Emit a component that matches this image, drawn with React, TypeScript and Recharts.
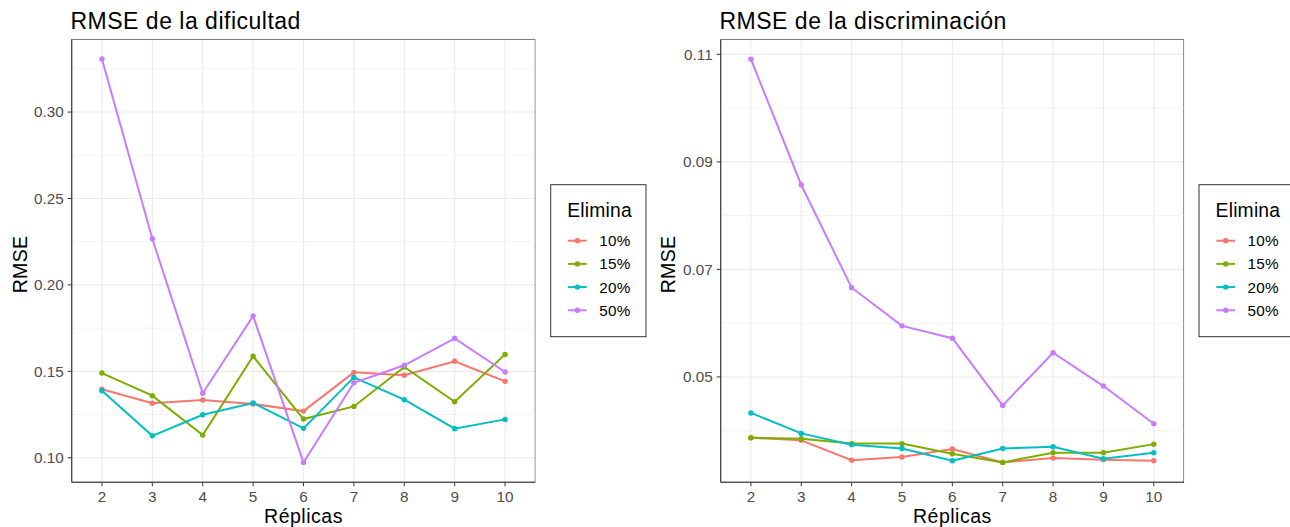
import React from 'react';
import { LineChart, Line, XAxis, YAxis, CartesianGrid, ReferenceLine, ReferenceArea } from 'recharts';

const replicas = [2, 3, 4, 5, 6, 7, 8, 9, 10];
const seriesNames = ['10%', '15%', '20%', '50%'];
const seriesColors = ['#F8766D', '#7CAE00', '#00BFC4', '#C77CFF'];

// RMSE de la dificultad
const dif10 = [0.1396, 0.1315, 0.1334, 0.1311, 0.127, 0.1494, 0.1477, 0.1558, 0.1442];
const dif15 = [0.149, 0.1359, 0.1131, 0.1587, 0.1224, 0.1297, 0.1525, 0.1324, 0.1598];
const dif20 = [0.1388, 0.1127, 0.1249, 0.1317, 0.117, 0.1465, 0.1336, 0.1168, 0.1222];
const dif50 = [0.3307, 0.2267, 0.1373, 0.182, 0.0973, 0.1434, 0.1535, 0.1691, 0.1496];

// RMSE de la discriminación
const dis10 = [0.0387, 0.0382, 0.0345, 0.0351, 0.0366, 0.0341, 0.0349, 0.0346, 0.0344];
const dis15 = [0.0387, 0.0385, 0.0376, 0.0376, 0.0357, 0.0341, 0.0359, 0.0359, 0.0375];
const dis20 = [0.0433, 0.0395, 0.0374, 0.0367, 0.0344, 0.0367, 0.037, 0.0348, 0.0359];
const dis50 = [0.1091, 0.0857, 0.0666, 0.0595, 0.0572, 0.0447, 0.0545, 0.0483, 0.0413];

const difTicks = [0.1, 0.15, 0.2, 0.25, 0.3];
const difMinor = [0.125, 0.175, 0.225, 0.275, 0.325];
const disTicks = [0.05, 0.07, 0.09, 0.11];
const disMinor = [0.04, 0.06, 0.08, 0.1];

const keys = ['s10', 's15', 's20', 's50'];

function buildRows(a: number[], b: number[], c: number[], d: number[]) {
  return replicas.map((r, i) => ({ rep: r, s10: a[i], s15: b[i], s20: c[i], s50: d[i] }));
}

const difRows = buildRows(dif10, dif15, dif20, dif50);
const disRows = buildRows(dis10, dis15, dis20, dis50);

const FONT = '"Liberation Sans", Arial, Helvetica, sans-serif';

type PanelProps = {
  rows: any[];
  domain: [number, number];
  ticks: number[];
  minor: number[];
  yWidth: number;
  rightMargin: number;
};

function Panel({ rows, domain, ticks, minor, yWidth, rightMargin }: PanelProps) {
  return (
    <LineChart
      width={645}
      height={527}
      data={rows}
      margin={{ top: 39.3, right: rightMargin, bottom: 0, left: 0 }}
    >
      {minor.map((v) => (
        <ReferenceLine key={'m' + v} y={v} stroke="#EBEBEB" strokeWidth={0.6} ifOverflow="hidden" />
      ))}
      <CartesianGrid stroke="#EBEBEB" strokeWidth={1.1} />
      <XAxis
        dataKey="rep"
        type="number"
        domain={[1.4, 10.6]}
        ticks={replicas}
        allowDataOverflow
        height={44.7}
        axisLine={{ stroke: '#333333', strokeWidth: 1 }}
        tickLine={{ stroke: '#333333' }}
        tickSize={4}
        tickMargin={4.5}
        tick={{ fill: '#4D4D4D', fontSize: 15.3, fontFamily: FONT }}
        interval={0}
      />
      <YAxis
        type="number"
        domain={domain}
        ticks={ticks}
        allowDataOverflow
        width={yWidth}
        axisLine={{ stroke: '#333333', strokeWidth: 1 }}
        tickLine={{ stroke: '#333333' }}
        tickSize={4}
        tickMargin={4}
        tick={{ fill: '#4D4D4D', fontSize: 15.3, fontFamily: FONT }}
        tickFormatter={(v: number) => v.toFixed(2)}
        interval={0}
      />
      {keys.map((k, i) => (
        <Line
          key={k}
          dataKey={k}
          type="linear"
          stroke={seriesColors[i]}
          strokeWidth={2}
          dot={{ r: 2.7, fill: seriesColors[i], stroke: seriesColors[i], strokeWidth: 0 }}
          activeDot={false}
          isAnimationActive={false}
        />
      ))}
      <ReferenceArea
        x1={1.4}
        x2={10.6}
        y1={domain[0]}
        y2={domain[1]}
        fill="none"
        stroke="#333333"
        strokeWidth={1}
        ifOverflow="hidden"
      />
    </LineChart>
  );
}

function LegendBox({ x, y, w, h }: { x: number; y: number; w: number; h: number }) {
  return (
    <g>
      <rect x={x} y={y} width={w} height={h} fill="#FFFFFF" stroke="#333333" strokeWidth={1} />
      <text x={x + 16.6} y={y + 32.6} fontSize={19.3} letterSpacing={0.2} fill="#000000" fontFamily={FONT}>
        Elimina
      </text>
      {seriesNames.map((n, i) => {
        const cy = y + 56 + i * 23.2;
        return (
          <g key={n}>
            <line x1={x + 17.3} x2={x + 36} y1={cy} y2={cy} stroke={seriesColors[i]} strokeWidth={2} />
            <circle cx={x + 26.7} cy={cy} r={2.7} fill={seriesColors[i]} />
            <text x={x + 48.6} y={cy + 5.4} fontSize={15.3} letterSpacing={0.2} fill="#000000" fontFamily={FONT}>
              {n}
            </text>
          </g>
        );
      })}
    </g>
  );
}

export default function App() {
  return (
    <div
      style={{
        position: 'absolute',
        left: 0,
        top: 0,
        width: 1290,
        height: 527,
        overflow: 'hidden',
        background: '#FFFFFF',
      }}
    >
      <div style={{ position: 'absolute', left: 0, top: 0 }}>
        <Panel rows={difRows} domain={[0.0858, 0.3421]} ticks={difTicks} minor={difMinor} yWidth={71.7} rightMargin={109.7} />
      </div>
      <div style={{ position: 'absolute', left: 645, top: 0 }}>
        <Panel rows={disRows} domain={[0.0304, 0.1128]} ticks={disTicks} minor={disMinor} yWidth={75.7} rightMargin={106} />
      </div>
      <svg
        width={1290}
        height={527}
        style={{ position: 'absolute', left: 0, top: 0, pointerEvents: 'none' }}
      >
        <text x={70.5} y={29} fontSize={23} letterSpacing={0.5} fill="#000000" fontFamily={FONT}>
          RMSE de la dificultad
        </text>
        <text x={719.5} y={29} fontSize={23} letterSpacing={0.5} fill="#000000" fontFamily={FONT}>
          RMSE de la discriminación
        </text>
        <text x={303.5} y={523} fontSize={19.5} letterSpacing={0.5} textAnchor="middle" fill="#000000" fontFamily={FONT}>
          Réplicas
        </text>
        <text x={952.4} y={523} fontSize={19.5} letterSpacing={0.5} textAnchor="middle" fill="#000000" fontFamily={FONT}>
          Réplicas
        </text>
        <text
          x={0}
          y={0}
          fontSize={19.5}
          letterSpacing={0.3}
          textAnchor="middle"
          fill="#000000"
          fontFamily={FONT}
          transform="translate(27.3,264.5) rotate(-90)"
        >
          RMSE
        </text>
        <text
          x={0}
          y={0}
          fontSize={19.5}
          letterSpacing={0.3}
          textAnchor="middle"
          fill="#000000"
          fontFamily={FONT}
          transform="translate(675.3,264.5) rotate(-90)"
        >
          RMSE
        </text>
        <LegendBox x={550.7} y={184.7} w={95.3} h={152} />
        <LegendBox x={1199} y={184.7} w={95.3} h={152} />
      </svg>
    </div>
  );
}
